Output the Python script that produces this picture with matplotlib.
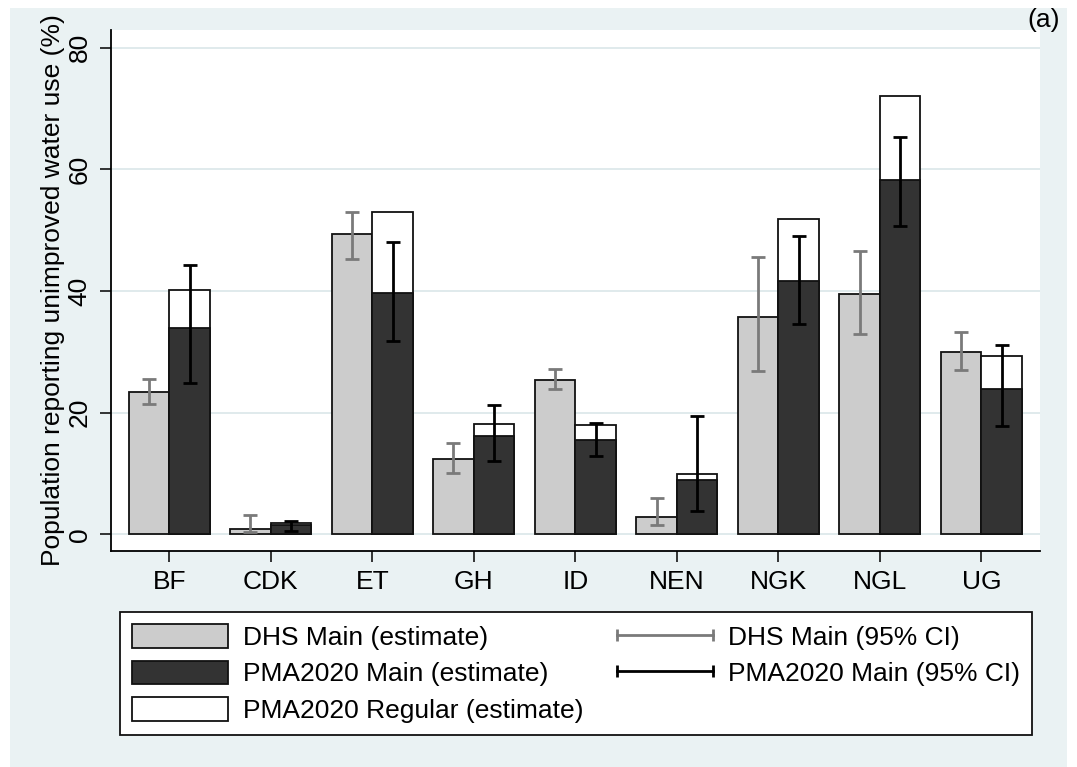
import numpy as np
import matplotlib.pyplot as plt
from matplotlib.patches import Patch, Rectangle
from matplotlib.lines import Line2D
from matplotlib.legend_handler import HandlerLine2D

plt.rcParams['font.family'] = ['Liberation Sans', 'DejaVu Sans']

# data
countries = ["BF", "CDK", "ET", "GH", "ID", "NEN", "NGK", "NGL", "UG"]
dhs_est = [23.4, 0.8, 49.3, 12.3, 25.4, 2.9, 35.7, 39.5, 30.0]
dhs_lo = [21.4, 0.3, 45.3, 10.1, 23.8, 1.5, 26.8, 32.9, 27.0]
dhs_hi = [25.5, 3.2, 53.0, 15.0, 27.1, 5.9, 45.6, 46.5, 33.2]
pma_main = [33.9, 1.5, 39.7, 16.1, 15.5, 8.9, 41.7, 58.2, 23.9]
pma_lo = [24.8, 0.6, 31.8, 12.1, 12.9, 3.8, 34.5, 50.6, 17.8]
pma_hi = [44.3, 2.2, 48.1, 21.3, 18.3, 19.5, 49.1, 65.3, 31.1]
pma_regular = [40.2, 1.8, 53.0, 18.1, 17.9, 9.9, 51.8, 72.1, 29.3]

bg = "#eaf2f3"
grid_col = "#dde8eb"
light = "#cccccc"
dark = "#333333"
fs = 19

fig = plt.figure(figsize=(10.77, 7.67), dpi=100)
fig.patch.set_facecolor("white")
fig.patches.append(Rectangle((10 / 1077, 0), 1057 / 1077, 759 / 767,
                             transform=fig.transFigure, facecolor=bg,
                             edgecolor="none", zorder=-10))

ax = fig.add_axes([111 / 1077, 1 - 551 / 767, 929 / 1077, 521 / 767])
ax.set_facecolor("white")

x = np.arange(len(countries))
w = 0.4
dhs_est = np.array(dhs_est)
pma_main = np.array(pma_main)

ax.bar(x - w / 2, dhs_est, w, color=light, edgecolor="#111111", linewidth=1.3, zorder=2)
ax.bar(x + w / 2, pma_regular, w, color="white", edgecolor="#111111", linewidth=1.3, zorder=2)
ax.bar(x + w / 2, pma_main, w, color=dark, edgecolor="#111111", linewidth=1.3, zorder=3)

ax.errorbar(x - w / 2, dhs_est,
            yerr=[dhs_est - np.array(dhs_lo), np.array(dhs_hi) - dhs_est],
            fmt="none", ecolor="#7a7a7a", elinewidth=2, capsize=5, capthick=2, zorder=4)
ax.errorbar(x + w / 2, pma_main,
            yerr=[pma_main - np.array(pma_lo), np.array(pma_hi) - pma_main],
            fmt="none", ecolor="black", elinewidth=2, capsize=5, capthick=2, zorder=4)

ax.set_xlim(-0.574, 8.578)
ax.set_ylim(-2.75, 82.9)
ax.set_yticks([0, 20, 40, 60, 80])
ax.set_xticks(x)
ax.set_xticklabels(countries, fontsize=fs)
for lab in ax.get_yticklabels():
    lab.set_rotation(90)
    lab.set_va("center")
    lab.set_fontsize(fs)
ax.tick_params(axis="both", direction="out", length=8, width=1.1, color="black", pad=6)
ax.yaxis.grid(True, color=grid_col, linewidth=1.3)
ax.set_axisbelow(True)
for s in ["top", "right"]:
    ax.spines[s].set_visible(False)
for s in ["left", "bottom"]:
    ax.spines[s].set_linewidth(1.3)
ax.set_ylabel("Population reporting unimproved water use (%)", fontsize=fs, labelpad=2)

fig.text(1060 / 1077, 1 - 8 / 767, "(a)", fontsize=fs, ha="right", va="top")

handles = [
    Patch(facecolor=light, edgecolor="#111111", linewidth=1.3, label="DHS Main (estimate)"),
    Patch(facecolor=dark, edgecolor="#111111", linewidth=1.3, label="PMA2020 Main (estimate)"),
    Patch(facecolor="white", edgecolor="#111111", linewidth=1.3, label="PMA2020 Regular (estimate)"),
    Line2D([], [], color="#7a7a7a", lw=2, marker="|", markersize=8, markeredgewidth=2,
           label="DHS Main (95% CI)"),
    Line2D([], [], color="black", lw=2, marker="|", markersize=8, markeredgewidth=2,
           label="PMA2020 Main (95% CI)"),
]
hmap = {h: HandlerLine2D(numpoints=2, marker_pad=0) for h in handles[3:]}
leg = fig.legend(handles=handles, handler_map=hmap, ncol=2, loc="center",
                 bbox_to_anchor=(576 / 1077, 1 - 673.5 / 767), fontsize=fs,
                 frameon=True, fancybox=False, edgecolor="#111111", framealpha=1,
                 handlelength=3.64, handleheight=1.0, handletextpad=0.58,
                 columnspacing=1.25, labelspacing=0.4, borderpad=0.45)
leg.get_frame().set_linewidth(1.3)

fig.savefig("out.png", dpi=100, facecolor=fig.get_facecolor())
